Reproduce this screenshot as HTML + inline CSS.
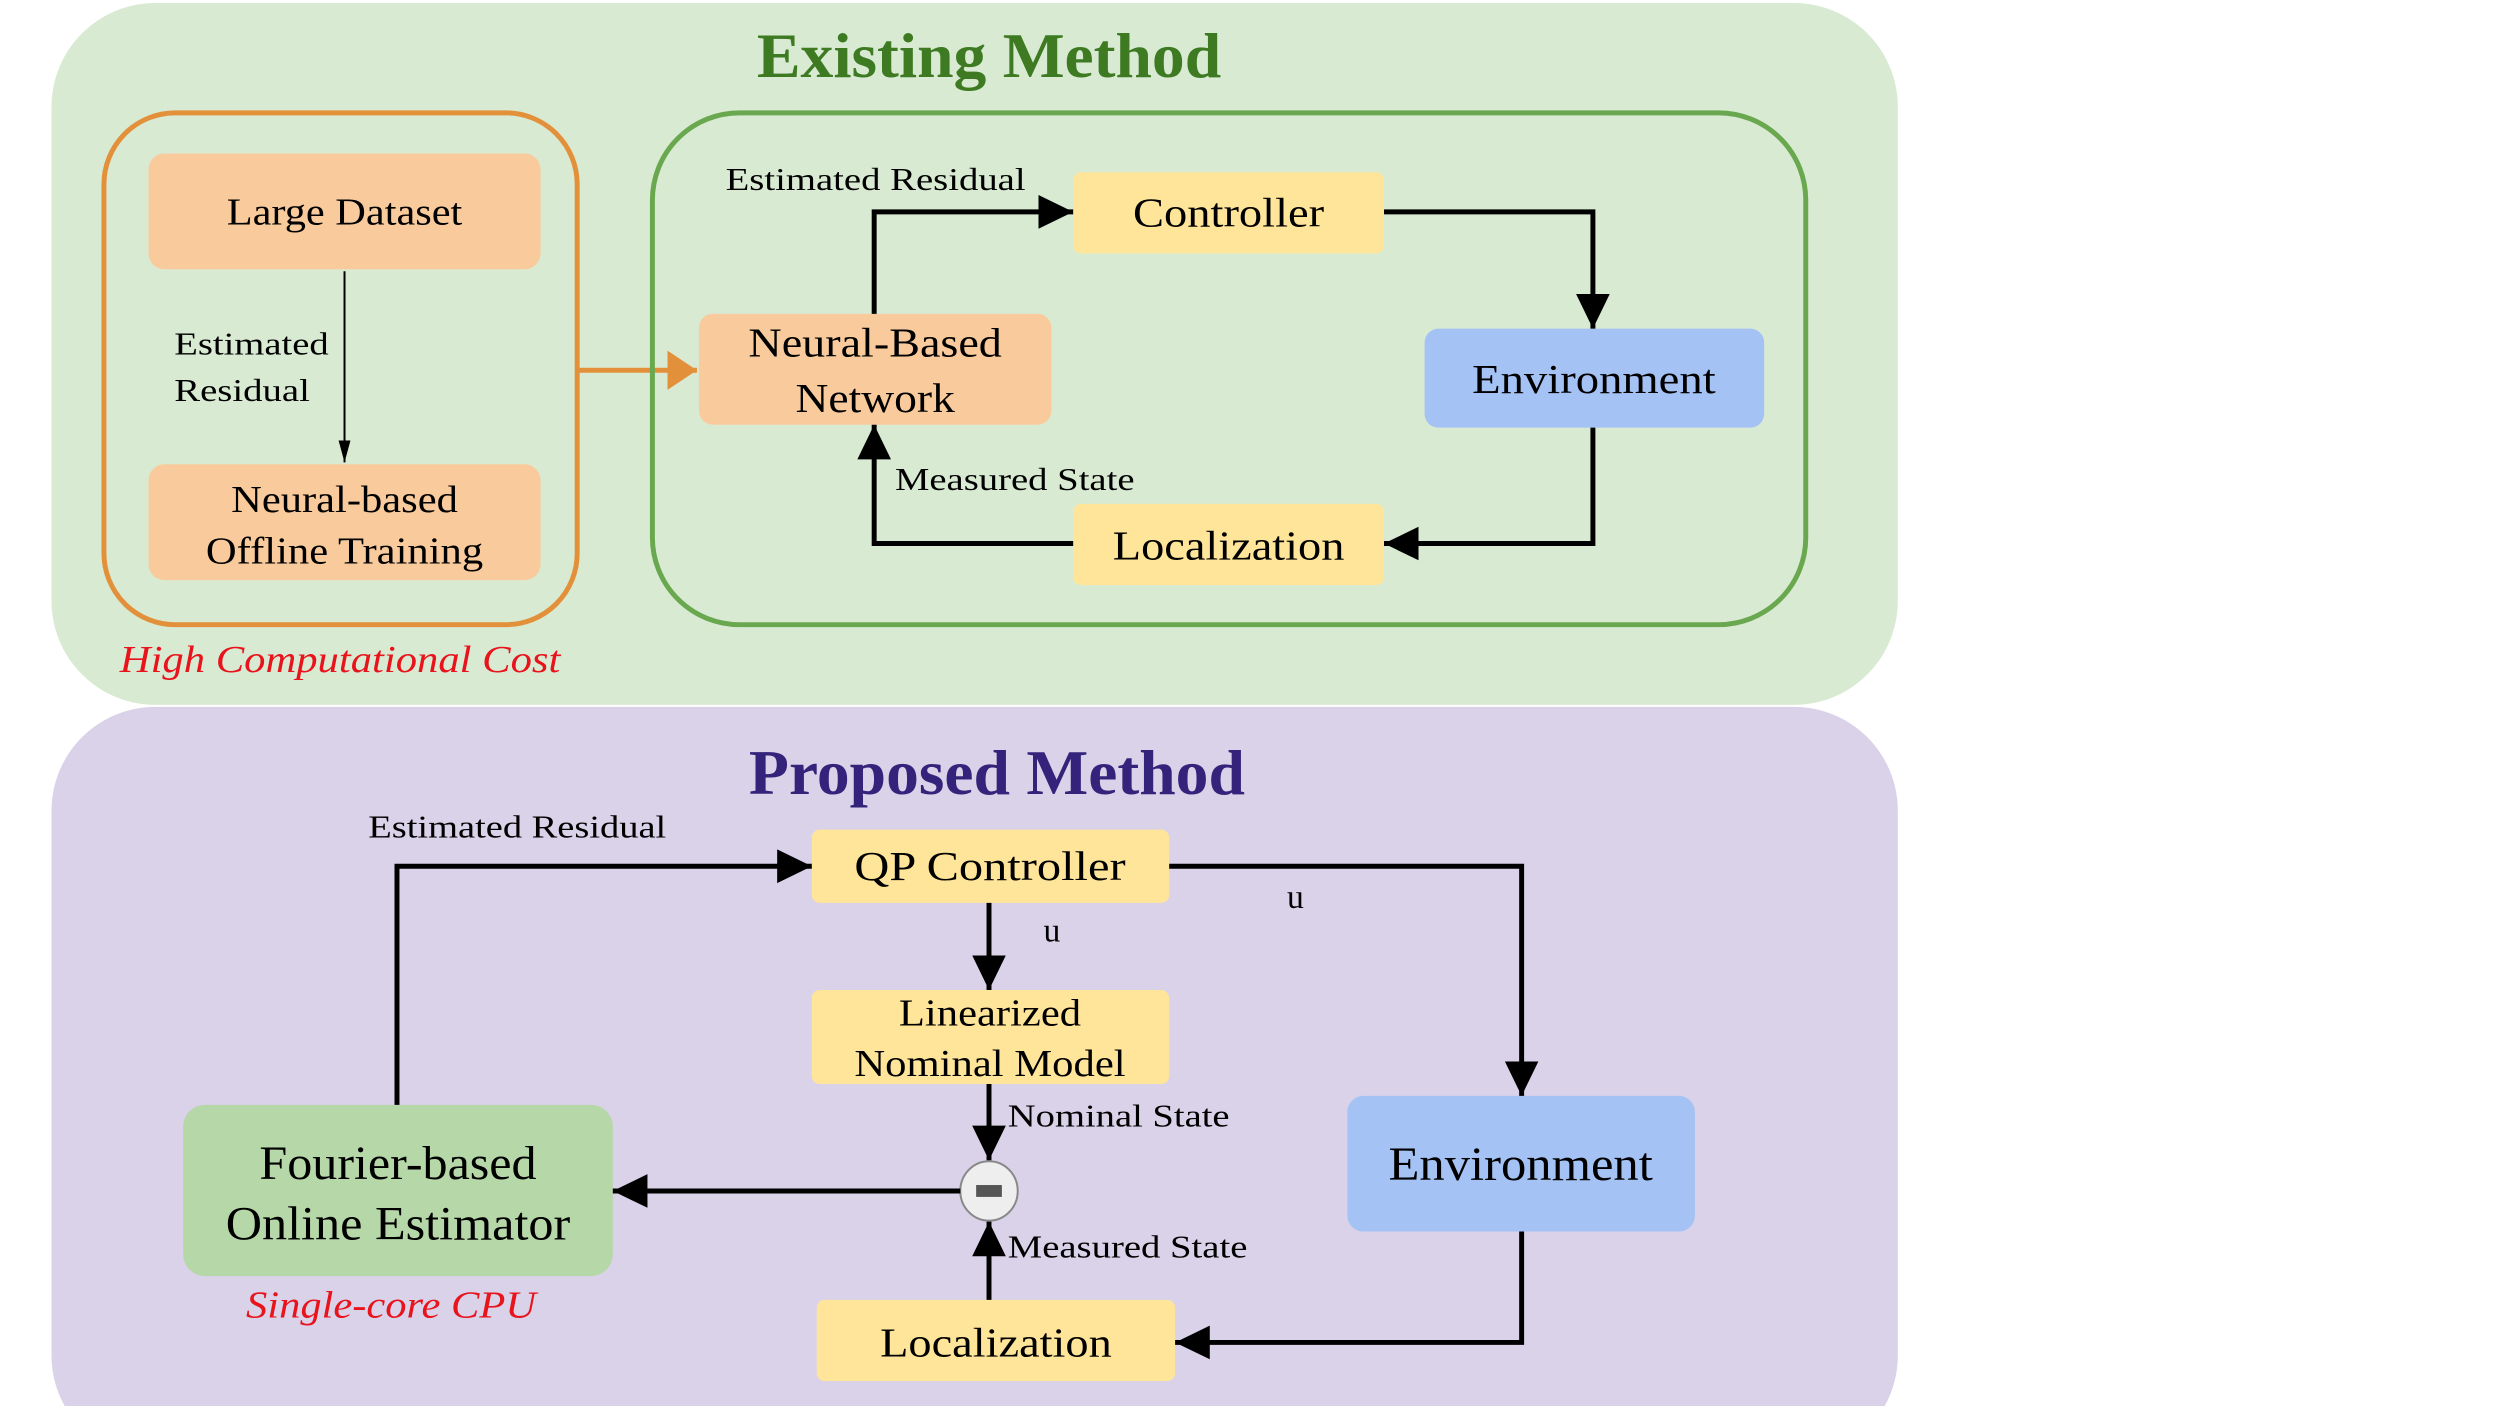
<!DOCTYPE html>
<html><head><meta charset="utf-8"><style>
html,body{margin:0;padding:0;background:#fff;}
svg{display:block;}
text{font-family:"Liberation Serif",serif;}
</style></head><body>
<svg width="2500" height="1406" viewBox="0 0 2500 1406" xmlns="http://www.w3.org/2000/svg">
<defs>
<marker id="ah" markerWidth="8" markerHeight="8" refX="7" refY="4" orient="auto" markerUnits="strokeWidth">
<path d="M0,0.6 L7,4 L0,7.4 Z" fill="#000"/></marker>
<marker id="ahs" markerWidth="12" markerHeight="12" refX="11" refY="5" orient="auto" markerUnits="strokeWidth">
<path d="M0,2 L11,5 L0,8 Z" fill="#000"/></marker>
<marker id="aho" markerWidth="8" markerHeight="8" refX="6" refY="4" orient="auto" markerUnits="strokeWidth">
<path d="M0,0 L6,4 L0,8 Z" fill="#e3903a"/></marker>
</defs>
<g transform="scale(0.99)">
<rect x="52" y="3" width="1865" height="709" rx="105" fill="#d9ead3"/>
<rect x="52" y="714" width="1865" height="760" rx="105" fill="#d9d2e9"/>

<text x="999" y="78" font-size="64" font-weight="bold" fill="#3d7a22" text-anchor="middle" textLength="469" lengthAdjust="spacingAndGlyphs">Existing Method</text>

<rect x="105" y="114" width="478" height="517" rx="72" fill="none" stroke="#e3903a" stroke-width="5"/>
<rect x="150" y="155" width="396" height="117" rx="16" fill="#f9cb9c"/>
<text x="348" y="227" font-size="38" text-anchor="middle" textLength="238" lengthAdjust="spacingAndGlyphs">Large Dataset</text>
<rect x="150" y="469" width="396" height="117" rx="16" fill="#f9cb9c"/>
<text x="348" y="517" font-size="38" text-anchor="middle" textLength="229" lengthAdjust="spacingAndGlyphs">Neural-based</text>
<text x="348" y="569" font-size="38" text-anchor="middle" textLength="280" lengthAdjust="spacingAndGlyphs">Offline Training</text>
<line x1="348" y1="274" x2="348" y2="467" stroke="#000" stroke-width="2" marker-end="url(#ahs)"/>
<text x="176" y="358" font-size="32" textLength="156" lengthAdjust="spacingAndGlyphs">Estimated</text>
<text x="176" y="405" font-size="32" textLength="137" lengthAdjust="spacingAndGlyphs">Residual</text>
<text x="121" y="679" font-size="38" font-style="italic" fill="#e8131b" textLength="445" lengthAdjust="spacingAndGlyphs">High Computational Cost</text>
<line x1="583" y1="374" x2="704" y2="374" stroke="#e3903a" stroke-width="5" marker-end="url(#aho)"/>

<rect x="659" y="114" width="1165" height="517" rx="88" fill="none" stroke="#6aa84f" stroke-width="5"/>
<rect x="706" y="317" width="356" height="112" rx="14" fill="#f9cb9c"/>
<text x="884" y="360" font-size="42" text-anchor="middle" textLength="256" lengthAdjust="spacingAndGlyphs">Neural-Based</text>
<text x="884" y="416" font-size="42" text-anchor="middle" textLength="161" lengthAdjust="spacingAndGlyphs">Network</text>
<rect x="1084" y="174" width="314" height="82" rx="8" fill="#ffe599"/>
<text x="1241" y="229" font-size="42" text-anchor="middle" textLength="193" lengthAdjust="spacingAndGlyphs">Controller</text>
<rect x="1439" y="332" width="343" height="100" rx="14" fill="#a4c2f4"/>
<text x="1610" y="397" font-size="42" text-anchor="middle" textLength="246" lengthAdjust="spacingAndGlyphs">Environment</text>
<rect x="1084" y="509" width="314" height="82" rx="8" fill="#ffe599"/>
<text x="1241" y="565" font-size="42" text-anchor="middle" textLength="234" lengthAdjust="spacingAndGlyphs">Localization</text>
<g fill="none" stroke="#000" stroke-width="5">
<polyline points="883,317 883,214 1084,214" marker-end="url(#ah)"/>
<polyline points="1398,214 1609,214 1609,332" marker-end="url(#ah)"/>
<polyline points="1609,432 1609,549 1398,549" marker-end="url(#ah)"/>
<polyline points="1084,549 883,549 883,429" marker-end="url(#ah)"/>
</g>
<text x="733" y="192" font-size="32" textLength="303" lengthAdjust="spacingAndGlyphs">Estimated Residual</text>
<text x="904" y="495" font-size="32" textLength="242" lengthAdjust="spacingAndGlyphs">Measured State</text>

<text x="1007" y="802" font-size="64" font-weight="bold" fill="#33237a" text-anchor="middle" textLength="501" lengthAdjust="spacingAndGlyphs">Proposed Method</text>
<rect x="820" y="838" width="361" height="74" rx="8" fill="#ffe599"/>
<text x="1000" y="889" font-size="42" text-anchor="middle" textLength="274" lengthAdjust="spacingAndGlyphs">QP Controller</text>
<rect x="820" y="1000" width="361" height="95" rx="8" fill="#ffe599"/>
<text x="1000" y="1036" font-size="38" text-anchor="middle" textLength="184" lengthAdjust="spacingAndGlyphs">Linearized</text>
<text x="1000" y="1087" font-size="38" text-anchor="middle" textLength="274" lengthAdjust="spacingAndGlyphs">Nominal Model</text>
<rect x="1361" y="1107" width="351" height="137" rx="16" fill="#a4c2f4"/>
<text x="1536" y="1192" font-size="48" text-anchor="middle" textLength="267" lengthAdjust="spacingAndGlyphs">Environment</text>
<rect x="185" y="1116" width="434" height="173" rx="22" fill="#b6d7a8"/>
<text x="402" y="1191" font-size="48" text-anchor="middle" textLength="280" lengthAdjust="spacingAndGlyphs">Fourier-based</text>
<text x="402" y="1252" font-size="48" text-anchor="middle" textLength="348" lengthAdjust="spacingAndGlyphs">Online Estimator</text>
<rect x="825" y="1313" width="362" height="82" rx="8" fill="#ffe599"/>
<text x="1006" y="1370" font-size="42" text-anchor="middle" textLength="234" lengthAdjust="spacingAndGlyphs">Localization</text>
<ellipse cx="999" cy="1203" rx="29" ry="30" fill="#eeeeee" stroke="#888" stroke-width="2"/>
<rect x="986" y="1197" width="26" height="12" fill="#555"/>
<g fill="none" stroke="#000" stroke-width="5">
<polyline points="401,1116 401,875 820,875" marker-end="url(#ah)"/>
<polyline points="1181,875 1537,875 1537,1107" marker-end="url(#ah)"/>
<line x1="999" y1="912" x2="999" y2="1000" marker-end="url(#ah)"/>
<line x1="999" y1="1095" x2="999" y2="1172" marker-end="url(#ah)"/>
<line x1="970" y1="1203" x2="619" y2="1203" marker-end="url(#ah)"/>
<line x1="999" y1="1313" x2="999" y2="1234" marker-end="url(#ah)"/>
<polyline points="1537,1244 1537,1356 1187,1356" marker-end="url(#ah)"/>
</g>
<text x="372" y="846" font-size="32" textLength="301" lengthAdjust="spacingAndGlyphs">Estimated Residual</text>
<text x="1054" y="951" font-size="34">u</text>
<text x="1300" y="917" font-size="34">u</text>
<text x="1018" y="1138" font-size="32" textLength="224" lengthAdjust="spacingAndGlyphs">Nominal State</text>
<text x="1018" y="1270" font-size="32" textLength="242" lengthAdjust="spacingAndGlyphs">Measured State</text>
<text x="395" y="1331" font-size="38" font-style="italic" fill="#e8131b" text-anchor="middle" textLength="293" lengthAdjust="spacingAndGlyphs">Single-core CPU</text>
</g>
</svg>
</body></html>
